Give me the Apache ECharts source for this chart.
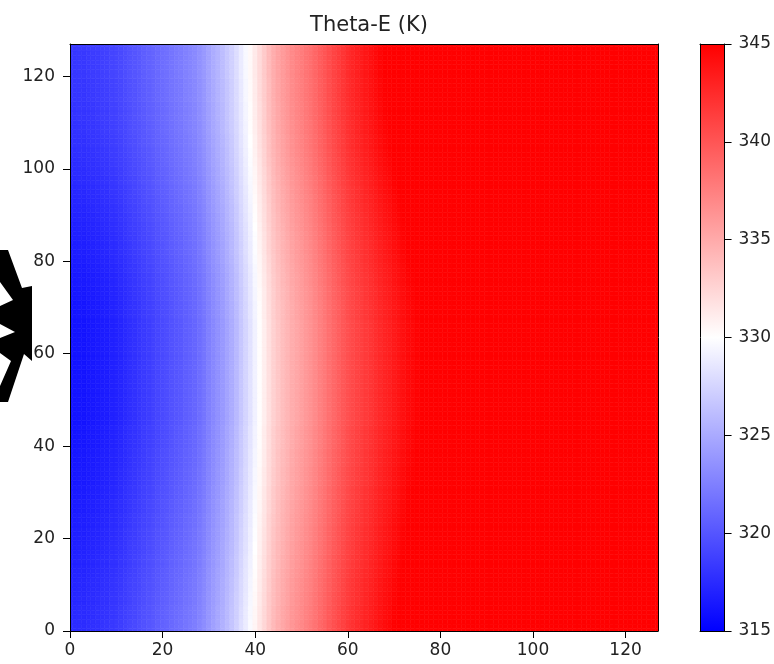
<!DOCTYPE html>
<html>
<head>
<meta charset="utf-8">
<script src="https://cdn.jsdelivr.net/npm/echarts@6/dist/echarts.min.js"></script>
<style>
  html, body { margin: 0; padding: 0; background: #fff; }
  #chart { width: 774px; height: 664px; }
</style>
</head>
<body>
<div id="chart"></div>
<script>
// Equivalent potential temperature (K) along the x direction (columns 0..127)
const columnThetaE = [
  316.1, 316.1, 316.2, 316.2, 316.3, 316.4, 316.5, 316.6, 316.7, 316.9,
  317.0, 317.2, 317.4, 317.7, 317.9, 318.1, 318.4, 318.6, 318.8, 319.1,
  319.3, 319.5, 319.8, 320.0, 320.2, 320.5, 320.7, 321.0, 321.4, 321.9,
  322.5, 323.0, 323.5, 324.0, 324.6, 325.2, 325.9, 326.7, 327.5, 328.3,
  329.2, 330.1, 331.0, 331.9, 332.7, 333.3, 333.8, 334.3, 334.8, 335.2,
  335.6, 336.0, 336.4, 336.9, 337.4, 337.9, 338.4, 338.9, 339.4, 339.8,
  340.3, 340.7, 341.0, 341.3, 341.6, 341.9, 342.3, 342.6, 342.9, 343.2,
  343.5, 343.8, 344.1, 344.4, 344.6, 344.8, 345.0, 345.2, 345.4, 345.6,
  345.8, 346.0, 346.1, 346.3, 346.4, 346.6, 346.7, 346.9, 347.0, 347.1,
  347.3, 347.4, 347.5, 347.6, 347.8, 347.9, 348.0, 348.1, 348.2, 348.3,
  348.4, 348.5, 348.6, 348.7, 348.8, 348.9, 349.0, 349.1, 349.2, 349.3,
  349.4, 349.5, 349.5, 349.6, 349.7, 349.8, 349.9, 350.0, 350.0, 350.1,
  350.2, 350.3, 350.3, 350.4, 350.5, 350.6, 350.6, 350.7
];

// Departure (K) of each row (y = 0..127) from the column profile
const rowDeparture = [
  1.4, 1.4, 1.4, 1.3, 1.3, 1.3, 1.2, 1.2, 1.2, 1.1,
  1.1, 1.1, 1.0, 1.0, 0.9, 0.9, 0.9, 0.8, 0.8, 0.8,
  0.7, 0.7, 0.7, 0.6, 0.6, 0.6, 0.5, 0.5, 0.5, 0.4,
  0.4, 0.4, 0.3, 0.3, 0.3, 0.3, 0.2, 0.2, 0.2, 0.2,
  0.1, 0.1, 0.1, 0.1, 0.1, 0.0, 0.0, 0.0, 0.0, 0.0,
  0.0, 0.0, 0.0, 0.0, 0.0, 0.0, 0.0, 0.0, 0.0, 0.0,
  0.0, 0.0, 0.0, 0.0, 0.0, 0.0, 0.0, 0.0, 0.1, 0.1,
  0.1, 0.1, 0.2, 0.2, 0.2, 0.3, 0.3, 0.3, 0.4, 0.4,
  0.5, 0.5, 0.6, 0.6, 0.6, 0.7, 0.7, 0.8, 0.8, 0.9,
  0.9, 1.0, 1.0, 1.1, 1.1, 1.2, 1.2, 1.3, 1.3, 1.4,
  1.4, 1.5, 1.5, 1.6, 1.6, 1.7, 1.7, 1.7, 1.8, 1.8,
  1.8, 1.9, 1.9, 1.9, 1.9, 2.0, 2.0, 2.0, 2.0, 2.0,
  2.1, 2.1, 2.1, 2.1, 2.1, 2.1, 2.1, 2.1
];

const axisTicks = [0, 20, 40, 60, 80, 100, 120];
const colorbarTicks = [315, 320, 325, 330, 335, 340, 345];
const colorRange = [315, 345];

// Grid table [x, y, thetaE]
const cells = [];
for (let j = 0; j < rowDeparture.length; j++) {
  for (let i = 0; i < columnThetaE.length; i++) {
    cells.push([i, j, +(columnThetaE[i] + rowDeparture[j]).toFixed(2)]);
  }
}

// Matplotlib "bwr": blue -> white -> red
function bwr(v) {
  let t = (v - colorRange[0]) / (colorRange[1] - colorRange[0]);
  t = Math.max(0, Math.min(1, t));
  let r, g, b;
  if (t < 0.5) { r = g = Math.round(510 * t); b = 255; }
  else { r = 255; g = b = Math.round(255 * (2 - 2 * t)); }
  return 'rgb(' + r + ',' + g + ',' + b + ')';
}

const FONT = 'DejaVu Sans';
const TXT = '#222';

const chart = echarts.init(document.getElementById('chart'), null, { renderer: 'canvas' });

const frameAxis = (extra) => Object.assign({
  type: 'value', z: 10,
  axisLine: { show: true, onZero: false, lineStyle: { color: '#000', width: 1 } },
  axisTick: { show: false }, axisLabel: { show: false }, splitLine: { show: false }
}, extra);

chart.setOption({
  animation: false,
  backgroundColor: '#fff',
  title: {
    text: 'Theta-E (K)', left: 364, top: 10, textAlign: 'center',
    textStyle: { fontFamily: FONT, fontSize: 21, fontWeight: 'normal', color: TXT }
  },
  grid: [
    { left: 70, top: 44, width: 588, height: 587 },
    { left: 700, top: 44, width: 29, height: 587 }
  ],
  xAxis: [
    frameAxis({
      gridIndex: 0, position: 'bottom', min: 0, max: 127,
      axisTick: { show: true, length: 7, customValues: axisTicks, lineStyle: { color: '#000' } },
      axisLabel: { show: true, margin: 11, customValues: axisTicks,
        fontFamily: FONT, fontSize: 17, color: TXT }
    }),
    frameAxis({ gridIndex: 0, position: 'top', min: 0, max: 127 }),
    frameAxis({ gridIndex: 1, position: 'bottom', min: 0, max: 1 }),
    frameAxis({ gridIndex: 1, position: 'top', min: 0, max: 1 })
  ],
  yAxis: [
    frameAxis({
      gridIndex: 0, position: 'left', min: 0, max: 127,
      axisTick: { show: true, length: 7, customValues: axisTicks, lineStyle: { color: '#000' } },
      axisLabel: { show: true, margin: 15, customValues: axisTicks,
        fontFamily: FONT, fontSize: 17, color: TXT }
    }),
    frameAxis({ gridIndex: 0, position: 'right', min: 0, max: 127 }),
    frameAxis({
      gridIndex: 1, position: 'right', min: colorRange[0], max: colorRange[1],
      axisTick: { show: true, length: 7, customValues: colorbarTicks, lineStyle: { color: '#000' } },
      axisLabel: { show: true, margin: 14, customValues: colorbarTicks,
        fontFamily: FONT, fontSize: 17, color: TXT }
    }),
    frameAxis({ gridIndex: 1, position: 'left', min: colorRange[0], max: colorRange[1] })
  ],
  series: [
    {
      type: 'custom',
      xAxisIndex: 0, yAxisIndex: 0,
      clip: true,
      progressive: 0,
      silent: true,
      data: cells,
      renderItem: function (params, api) {
        const x = api.value(0), y = api.value(1), v = api.value(2);
        const p0 = api.coord([x - 0.5, y + 0.5]);
        const p1 = api.coord([x + 0.5, y - 0.5]);
        const c = bwr(v);
        return {
          type: 'rect',
          shape: { x: p0[0], y: p0[1], width: p1[0] - p0[0], height: p1[1] - p0[1] },
          style: { fill: c, stroke: c, lineWidth: 0.6 }
        };
      }
    },
    {
      // colour bar
      type: 'custom',
      xAxisIndex: 2, yAxisIndex: 2,
      silent: true,
      data: [[0, colorRange[0], 1, colorRange[1]]],
      renderItem: function (params, api) {
        const pTop = api.coord([api.value(0), api.value(3)]);
        const pBot = api.coord([api.value(2), api.value(1)]);
        return {
          type: 'rect',
          shape: { x: pTop[0], y: pTop[1], width: pBot[0] - pTop[0], height: pBot[1] - pTop[1] },
          style: {
            fill: new echarts.graphic.LinearGradient(0, 0, 0, 1, [
              { offset: 0, color: bwr(colorRange[1]) },
              { offset: 0.5, color: bwr((colorRange[0] + colorRange[1]) / 2) },
              { offset: 1, color: bwr(colorRange[0]) }
            ])
          }
        };
      }
    }
  ],
  graphic: [
    {
      // large black arrow heads clipped at the left edge of the figure
      type: 'polygon', z: 20, silent: true,
      shape: {
        points: [
          [0, 250], [8, 250], [22, 288], [32, 286], [32, 361], [24, 354],
          [8, 402], [0, 402], [0, 386], [11, 361], [0, 353], [0, 338],
          [15, 332], [0, 324], [0, 306], [13, 300], [0, 282]
        ]
      },
      style: { fill: '#000' }
    }
  ]
});
</script>
</body>
</html>
